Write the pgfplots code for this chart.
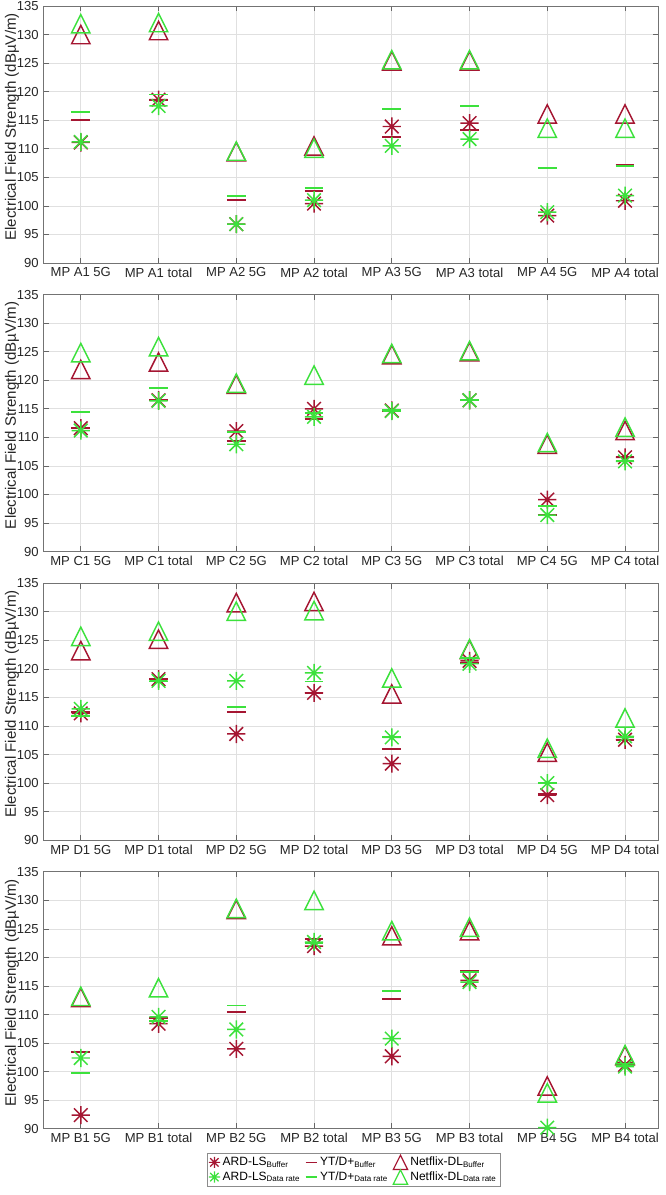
\documentclass[border=0pt]{standalone}
\usepackage{fontspec}
\setmainfont{Liberation Sans}
\usepackage{pgfplots}
\pgfplotsset{compat=1.18}
\definecolor{cR}{RGB}{165,22,50}
\definecolor{cG}{RGB}{60,225,60}

\pgfdeclareplotmark{ast8}{%
  \pgfpathmoveto{\pgfqpoint{-\pgfplotmarksize}{0pt}}\pgfpathlineto{\pgfqpoint{\pgfplotmarksize}{0pt}}%
  \pgfpathmoveto{\pgfqpoint{0pt}{-\pgfplotmarksize}}\pgfpathlineto{\pgfqpoint{0pt}{\pgfplotmarksize}}%
  \pgfpathmoveto{\pgfqpoint{-.75\pgfplotmarksize}{-.75\pgfplotmarksize}}\pgfpathlineto{\pgfqpoint{.75\pgfplotmarksize}{.75\pgfplotmarksize}}%
  \pgfpathmoveto{\pgfqpoint{-.75\pgfplotmarksize}{.75\pgfplotmarksize}}\pgfpathlineto{\pgfqpoint{.75\pgfplotmarksize}{-.75\pgfplotmarksize}}%
  \pgfusepathqstroke}
\pgfdeclareplotmark{tri}{%
  \pgfpathmoveto{\pgfqpoint{0pt}{\pgfplotmarksize}}%
  \pgfpathlineto{\pgfqpoint{-\pgfplotmarksize}{-\pgfplotmarksize}}%
  \pgfpathlineto{\pgfqpoint{\pgfplotmarksize}{-\pgfplotmarksize}}%
  \pgfpathclose\pgfusepathqstroke}
\pgfdeclareplotmark{hdash}{%
  \pgfpathmoveto{\pgfqpoint{-\pgfplotmarksize}{0pt}}\pgfpathlineto{\pgfqpoint{\pgfplotmarksize}{0pt}}%
  \pgfusepathqstroke}

\pgfplotsset{
  panel/.style={
    scale only axis, width=461.25pt, height=192.75pt,
    anchor=north west,
    xmin=-0.48, xmax=7.43, ymin=90, ymax=135,
    xtick={0,...,7}, ytick={90,95,...,135},
    tick align=inside, major tick length=4pt,
    tick style={black!60, line width=0.5pt},
    axis line style={black!55, line width=0.5pt},
    grid=major, major grid style={black!12, line width=0.5pt},
    tick label style={font=\fontsize{9.8}{11}\selectfont, text=black!85},
    /pgf/number format/assume math mode=true,
    ylabel={Electrical Field Strength (dBµV/m)},
    ylabel style={font=\fontsize{11.3}{13}\selectfont, text=black!85, at={(axis description cs:-0.0512,0.53)}, anchor=center},
    clip=false,
  },
  ardB/.style={only marks, mark=ast8, mark size=6.8pt, draw=cR, mark options={line width=1.1pt}, legend image post style={mark size=4.2pt, mark options={line width=0.9pt}}},
  ardD/.style={only marks, mark=ast8, mark size=6.8pt, draw=cG, mark options={line width=1.1pt}, legend image post style={mark size=4.2pt, mark options={line width=0.9pt}}},
  ytB/.style={only marks, mark=hdash, mark size=7pt, draw=cR, mark options={line width=1.4pt}, legend image post style={mark size=4.4pt, mark options={line width=1.1pt}}},
  ytD/.style={only marks, mark=hdash, mark size=7pt, draw=cG, mark options={line width=1.4pt}, legend image post style={mark size=4.4pt, mark options={line width=1.1pt}}},
  nfB/.style={only marks, mark=tri, mark size=6.9pt, draw=cR, mark options={line width=1.1pt}, legend image post style={mark size=5.4pt, mark options={line width=0.9pt}}},
  nfD/.style={only marks, mark=tri, mark size=6.9pt, draw=cG, mark options={line width=1.1pt}, legend image post style={mark size=5.4pt, mark options={line width=0.9pt}}},
}

\begin{document}
\begin{tikzpicture}
\useasboundingbox (0,0) rectangle (499.5pt,-896.25pt);

% Panel A
\begin{axis}[panel, at={(32.6pt,-4.5pt)},
  xticklabels={MP A1 5G, MP A1 total, MP A2 5G, MP A2 total, MP A3 5G, MP A3 total, MP A4 5G, MP A4 total}]
\addplot[ardB] coordinates {(0,111.1)(1,118.6)(2,96.8)(3,100.4)(4,113.9)(5,114.5)(6,98.3)(7,100.9)};
\addplot[ytB] coordinates {(0,115.1)(1,118.6)(2,101.0)(3,102.6)(4,112.1)(5,113.3)(6,106.7)(7,107.1)};
\addplot[nfB] coordinates {(0,130.0)(1,130.7)(2,109.5)(3,110.5)(4,125.4)(5,125.4)(6,116.1)(7,116.1)};
\addplot[ardD] coordinates {(0,111.2)(1,117.5)(2,96.8)(3,101.0)(4,110.5)(5,111.7)(6,98.9)(7,101.8)};
\addplot[ytD] coordinates {(0,116.5)(1,119.5)(2,101.7)(3,103.2)(4,117.0)(5,117.5)(6,106.6)(7,107.0)};
\addplot[nfD] coordinates {(0,131.9)(1,132.1)(2,109.6)(3,110.1)(4,125.6)(5,125.6)(6,113.6)(7,113.6)};
\end{axis}

% Panel C
\begin{axis}[panel, at={(32.6pt,-220.95pt)},
  xticklabels={MP C1 5G, MP C1 total, MP C2 5G, MP C2 total, MP C3 5G, MP C3 total, MP C4 5G, MP C4 total}]
\addplot[ardB] coordinates {(0,111.6)(1,116.5)(2,111.1)(3,115.0)(4,114.7)(5,116.5)(6,99.1)(7,106.5)};
\addplot[ytB] coordinates {(0,111.6)(1,116.5)(2,109.4)(3,113.2)(4,114.6)(5,116.5)(6,96.4)(7,106.5)};
\addplot[nfB] coordinates {(0,121.9)(1,123.2)(2,119.3)(4,124.5)(5,125.0)(6,108.8)(7,111.2)};
\addplot[ardD] coordinates {(0,111.2)(1,116.4)(2,108.8)(3,113.6)(4,114.6)(5,116.5)(6,96.4)(7,105.8)};
\addplot[ytD] coordinates {(0,114.4)(1,118.6)(2,111.0)(3,114.3)(4,114.8)(5,116.5)(6,98.0)(7,105.8)};
\addplot[nfD] coordinates {(0,124.85)(1,125.9)(2,119.5)(3,120.9)(4,124.7)(5,125.2)(6,109.1)(7,111.8)};
\end{axis}

% Panel D
\begin{axis}[panel, at={(32.6pt,-437.4pt)},
  xticklabels={MP D1 5G, MP D1 total, MP D2 5G, MP D2 total, MP D3 5G, MP D3 total, MP D4 5G, MP D4 total}]
\addplot[ardB] coordinates {(0,112.2)(1,118.2)(2,108.6)(3,115.8)(4,103.4)(5,121.4)(6,97.9)(7,107.6)};
\addplot[ytB] coordinates {(0,112.4)(1,118.2)(2,112.4)(3,115.8)(4,106.0)(5,121.0)(6,98.1)(7,107.6)};
\addplot[nfB] coordinates {(0,123.2)(1,125.2)(2,131.6)(3,131.8)(4,115.6)(5,123.4)(6,105.4)};
\addplot[ardD] coordinates {(0,113.0)(1,117.9)(2,117.9)(3,119.3)(4,108.0)(5,120.9)(6,100.0)(7,108.2)};
\addplot[ytD] coordinates {(0,111.7)(1,117.8)(2,113.4)(3,117.8)(4,108.0)(5,121.9)(6,100.0)(7,108.0)};
\addplot[nfD] coordinates {(0,125.7)(1,126.6)(2,130.1)(3,130.2)(4,118.4)(5,123.5)(6,106.1)(7,111.4)};
\end{axis}

% Panel B
\begin{axis}[panel, at={(32.6pt,-653.85pt)},
  xticklabels={MP B1 5G, MP B1 total, MP B2 5G, MP B2 total, MP B3 5G, MP B3 total, MP B4 5G, MP B4 total},
  legend columns=3,
  legend style={at={(axis description cs:0.505,-0.093)}, anchor=north, draw=black!45, line width=0.5pt,
    font=\fontsize{9}{10.5}\selectfont, inner sep=1pt, row sep=-1pt,
    /tikz/every even column/.append style={column sep=2pt}},
  legend cell align=left,
  legend image code/.code={\draw[mark repeat=2,mark phase=2,#1] plot coordinates {(0cm,0cm) (0.15cm,0cm) (0.3cm,0cm)};}]
\addplot[ardB] coordinates {(0,92.4)(1,108.4)(2,104.0)(3,122.0)(4,102.7)(5,116.0)(7,101.2)};
\addplot[ytB] coordinates {(0,103.4)(1,109.4)(2,110.4)(3,123.2)(4,112.7)(5,117.7)(7,101.5)};
\addplot[nfB] coordinates {(0,113.0)(2,128.4)(4,123.8)(5,124.7)(6,97.5)(7,102.8)};
\addplot[ardD] coordinates {(0,102.4)(1,109.6)(2,107.4)(3,122.7)(4,105.8)(5,115.7)(6,90.2)(7,100.9)};
\addplot[ytD] coordinates {(0,99.8)(1,108.9)(2,111.6)(3,122.6)(4,114.1)(5,117.5)(7,101.0)};
\addplot[nfD] coordinates {(0,113.2)(1,114.7)(2,128.6)(3,130.0)(4,124.7)(5,125.3)(6,96.3)(7,103.0)};
\legend{ARD-LS\textsubscript{Buffer}, YT/D+\textsubscript{Buffer}, Netflix-DL\textsubscript{Buffer},
        ARD-LS\textsubscript{Data rate}, YT/D+\textsubscript{Data rate}, Netflix-DL\textsubscript{Data rate}}
\end{axis}
\end{tikzpicture}
\end{document}
